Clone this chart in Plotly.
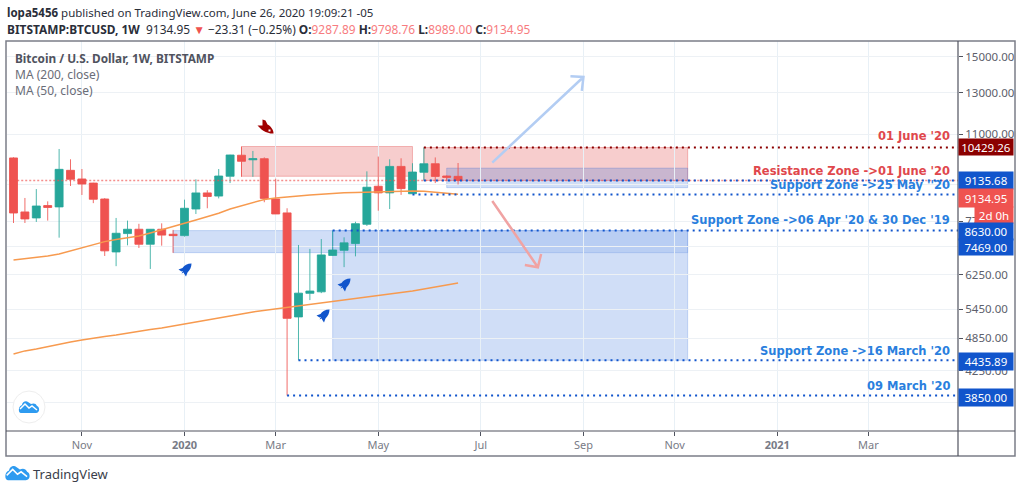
import plotly.graph_objects as go
import pandas as pd
import re

# ---------- data ----------
first_week = "2019-09-23"
opens  = [10000,8050,7858,8260,8214,9515,9190,9040,8480,6855,7380,7510,7070,7510,7360,7320,8145,8690,8580,9290,
          10110,9925,9970,8480,8020,5280,5805,5840,6760,6900,7090,7660,8925,8690,9665,8660,9440,9770,9300,9287.89]
highs  = [10030,8515,8825,8400,10366,9946,9565,9050,8510,7858,7775,7675,7515,7690,7490,8457,9178,8785,9565,10130,
          10462,10285,10025,9200,8170,7050,6940,7220,7470,7270,7740,9475,10055,9946,9985,9790,10429.26,10020,9320,9798.76]
lows   = [7700,7700,7733,7775,7260,8935,8618,8340,6745,6475,7040,6965,6403,7030,6830,7290,7985,8170,8500,9040,
          9270,9270,8370,7985,3850,4435.89,5650,5810,6745,6450,6735,7610,8090,8145,8620,8660,9130,9040,9135,8989]
closes = [8016,7827,8245,8195,9553,9178,9005,8470,6885,7390,7510,7070,7510,7335,7320,8170,8690,8565,9300,10120,
          9866,9970,8500,7985,5250,5810,5860,6775,6910,7110,7680,8890,8690,9665,8840,9450,9770,9285,9250,9134.95]
ma50  = [6638,6668,6703,6743,6797,6880,6963,7047,7146,7210,7253,7311,7400,7488,7587,7690,7795,7890,8006,8147,
         8245,8345,8465,8515,8560,8584,8618,8652,8687,8697,8708,8722,8733,8740,8750,8758,8744,8711,8676,8641]
ma200 = [4551,4607,4644,4691,4738,4776,4814,4853,4882,4911,4951,4991,5021,5052,5092,5122,5163,5205,5257,5300,
         5342,5386,5418,5451,5484,5517,5550,5584,5618,5653,5687,5722,5756,5791,5826,5862,5909,5957,6005,6053]
weeks = pd.date_range(first_week, periods=len(opens), freq="7D")

y_ticks = [15000,13000,11000,9000,7750,7000,6250,5450,4850,4250,3750]
x_ticks = ["2019-11-04","2020-01-06","2020-03-02","2020-05-04","2020-07-06","2020-09-07","2020-11-02","2021-01-04","2021-03-01"]
x_labels = ["Nov","2020","Mar","May","Jul","Sep","Nov","2021","Mar"]

levels = [("2020-06-01",10429.26,"#8b0000"),("2020-06-01",9135.68,"#1155cc"),("2020-05-25",8630.00,"#1155cc"),
          ("2020-04-06",7469.00,"#1155cc"),("2020-03-16",4435.89,"#1155cc"),("2020-03-09",3850.00,"#1155cc")]
last_price = 9134.95

zones = [("2020-02-10","2020-05-25",10470,9290,"r"),("2020-06-01","2020-11-10",10429.26,9135.68,"r"),
         ("2020-06-15","2020-11-10",9600,8875,"b"),("2019-12-30","2020-04-06",7469,6835,"b"),
         ("2020-04-06","2020-11-10",7469,6835,"o"),("2020-04-06","2020-11-10",7469,4435.89,"b")]

arrow_up_x = ["2020-07-13","2020-09-07","2020-08-30","2020-09-07","2020-09-06"]
arrow_up_y = [9816,13842,13880,13842,13086]
arrow_dn_x = ["2020-07-13","2020-08-10","2020-08-02","2020-08-10","2020-08-12"]
arrow_dn_y = [8413,6447,6505,6447,6797]

notes = [("01 June '20",136,"#e0474c"),("Resistance Zone ->01 June '20",171,"#e0474c"),
         ("Support Zone ->25 May ''20",185,"#2a7fde"),("Support Zone ->06 Apr '20 & 30 Dec '19",220,"#2a7fde"),
         ("Support Zone ->16 March '20",351,"#2a7fde"),("09 March '20",386,"#2a7fde")]
boxes = [("10429.26",147,16,"#8b0000",958),("9135.68",181,17,"#1155cc",958),("9134.95",198,18,"#ef5350",958),
         ("2d 0h",215,16,"#ef5350",974),("8630.00",231,17,"#1155cc",958),("7469.00",247,16,"#1155cc",958),
         ("4435.89",361,17,"#1155cc",958),("3850.00",397,17,"#1155cc",958)]

# ---------- pixel helpers for layout furniture ----------
L, R, T, B = 7, 958, 41, 431
px = lambda x: (x - L) / (R - L)
py = lambda y: (B - y) / (B - T)
X_END = "2021-04-25"
UI = "Noto Sans"

fig = go.Figure()
fig.add_trace(go.Candlestick(x=weeks, open=opens, high=highs, low=lows, close=closes, whiskerwidth=0,
    increasing=dict(line=dict(color="rgba(38,166,154,0.8)", width=1), fillcolor="#26a69a"),
    decreasing=dict(line=dict(color="rgba(239,83,80,0.85)", width=1), fillcolor="#ef5350")))
fig.add_trace(go.Scatter(x=weeks, y=ma50, mode="lines", line=dict(color="#f79a4f", width=1.5)))
fig.add_trace(go.Scatter(x=weeks, y=ma200, mode="lines", line=dict(color="#f79a4f", width=1.5)))
fig.add_trace(go.Scatter(x=[weeks[0] - pd.Timedelta(days=10), X_END], y=[last_price, last_price], mode="lines",
                         line=dict(color="rgba(239,83,80,0.65)", width=1.5, dash="2px,2px")))
for start, val, col in levels:
    fig.add_trace(go.Scatter(x=[start, X_END], y=[val, val], mode="lines",
                             line=dict(color=col, width=2, dash="2px,4px")))
fig.add_trace(go.Scatter(x=arrow_up_x, y=arrow_up_y, mode="lines", line=dict(color="#b3cdf3", width=2.5)))
fig.add_trace(go.Scatter(x=arrow_dn_x, y=arrow_dn_y, mode="lines", line=dict(color="#f0a3a3", width=2.5)))

shapes = []
FILL = {"r": "rgba(226,70,70,0.27)", "b": "rgba(21,90,215,0.2)", "o": "rgba(21,90,215,0.12)"}
EDGE = {"r": "rgba(226,70,70,0.35)", "b": "rgba(21,90,215,0.2)", "o": "rgba(21,90,215,0.15)"}
for x0, x1, y0, y1, kind in zones:
    shapes.append(dict(type="rect", xref="x", yref="y", x0=x0, x1=x1, y0=y0, y1=y1, layer="below",
                       fillcolor=FILL[kind], line=dict(color=EDGE[kind], width=1)))

BLUE_ROCKET = "M6.5,6.5 C2.5,6.5 -1,4.5 -2.5,2 L-6.5,0.5 L-3.5,-1.5 L-2,-1 L-3.5,-3.5 L-1,-2.5 L-1,-3.5 L1,-6.5 L2.5,-2.5 C5,0 6.5,3 6.5,6.5 Z"
RED_ROCKET = "M8,-7 L5,-7 C2,-6 -2,-5 -4,-3 L-8,1 L-3,1 L-3,7 L0,6 L2,2 C6,0 8,-4 8,-7 Z"
def glyph(x, y, path, col, lw=0, lc="white"):
    return dict(type="path", xref="paper", yref="paper", xsizemode="pixel", ysizemode="pixel",
                xanchor=px(x), yanchor=py(y), path=path, fillcolor=col, line=dict(width=lw, color=lc))
shapes += [glyph(185, 270, BLUE_ROCKET, "#1155cc"), glyph(344, 285, BLUE_ROCKET, "#1155cc"),
           glyph(323, 316, BLUE_ROCKET, "#1155cc"), glyph(265.5, 126.5, RED_ROCKET, "#a00000"),
           glyph(269.5, 130.5, "M-1,-1 L1,-1 L1,1 L-1,1 Z", "white")]

CLOUD = "M-8,-6 L7,-6 C11,-6 11,0 8,1 C7,4 4,4 2,3 L-1,5 C-3,7 -7,5 -7,2 C-11,1 -11,-6 -8,-6 Z"
ZIG = "M-9,-2 L-4,3 L0,-1 L3,1 L8,-3"
def scaled(path, s):
    return re.sub(r"-?\d+", lambda m: f"{float(m.group())*s:.1f}", path)
def cloud(x, y, s):
    return [glyph(x, y, scaled(CLOUD, s), "#2e9bf0"),
            dict(glyph(x, y, scaled(ZIG, s), "rgba(0,0,0,0)", 1.5, "white"))]
shapes.append(dict(type="circle", xref="paper", yref="paper", x0=px(13), x1=px(45), y0=py(423), y1=py(391),
                   fillcolor="white", line=dict(color="#eeeeee", width=1)))
shapes += cloud(29, 407, 1.0)
shapes += cloud(17.5, 473, 1.2)
# frame
shapes.append(dict(type="rect", xref="paper", yref="paper", x0=px(6), x1=px(1015), y0=py(456), y1=py(41),
                   line=dict(color="#7b7e88", width=1.5), layer="above"))
shapes.append(dict(type="line", xref="paper", yref="paper", x0=1, x1=1, y0=py(456), y1=py(41),
                   line=dict(color="#50535e", width=1.2), layer="above"))
shapes.append(dict(type="line", xref="paper", yref="paper", x0=px(6), x1=px(1015), y0=0, y1=0,
                   line=dict(color="#50535e", width=1.2), layer="above"))

def ann(text, x, y, size=12, color="#131722", anchor="left", font=UI, **kw):
    return dict(text=text, xref="paper", yref="paper", x=px(x), y=py(y), xanchor=anchor, yanchor="middle",
                showarrow=False, font=dict(family=font, size=size, color=color), align=anchor, borderpad=0, **kw)

RED = "#f77c80"
annots = [
    ann("<b>lopa5456</b> published on TradingView.com, June 26, 2020 19:09:21 -05", 6, 12, 11.5, "#2a2e39"),
    ann(f"<b>BITSTAMP:BTCUSD, 1W</b>  9134.95 <span style='color:#ef5350'>▼</span> −23.31 (−0.25%) "
        f"<b>O:</b><span style='color:{RED}'>9287.89</span> <b>H:</b><span style='color:{RED}'>9798.76</span> "
        f"<b>L:</b><span style='color:{RED}'>8989.00</span> <b>C:</b><span style='color:{RED}'>9134.95</span>",
        6, 29, 11.9, "#2a2e39"),
    ann("<b>Bitcoin / U.S. Dollar, 1W, BITSTAMP</b>", 14, 58, 11.8, "#50535e"),
    ann("MA (200, close)", 14, 74, 12, "#6a6d78"),
    ann("MA (50, close)", 14, 90, 12, "#6a6d78"),
    ann("TradingView", 32, 474, 13, "#3a3e4a"),
]
for text, y, col in notes:
    annots.append(ann(f"<b>{text}</b>", 951, y, 11.5, col, "right", "DejaVu Sans"))
for text, y, h, col, x0 in boxes:
    annots.append(ann(text, x0, y, 11.5, "white", "center", UI, width=1012 - x0, height=h, bgcolor=col))
    annots[-1]["xanchor"] = "left"

fig.update_layout(
    width=1024, height=491, showlegend=False, paper_bgcolor="white", plot_bgcolor="white",
    margin=dict(l=L, r=1024 - R, t=T, b=491 - B), boxgap=0.3, boxgroupgap=0, hovermode=False,
    shapes=shapes, annotations=annots,
    xaxis=dict(type="date", range=["2019-09-19", X_END], rangeslider=dict(visible=False),
               tickvals=x_ticks, ticktext=[f"<b>{t}</b>" if t.isdigit() else t for t in x_labels],
               tickfont=dict(family=UI, size=11, color="#787b86"), ticks="outside", ticklen=4, tickcolor="#50535e",
               showgrid=True, gridcolor="#e8f0f6", gridwidth=1, zeroline=False, showline=False),
    yaxis=dict(type="log", side="right", range=[3.5237, 4.20398],
               tickvals=y_ticks, ticktext=[f"{v}.00" for v in y_ticks],
               tickfont=dict(family=UI, size=11.5, color="#5d606b"), ticks="outside", ticklen=4, tickcolor="#50535e",
               showgrid=True, gridcolor="#edf1f5", gridwidth=1, zeroline=False, showline=False),
)
fig.write_html("out.html", config=dict(displayModeBar=False), post_script="document.body.style.margin='0';")
